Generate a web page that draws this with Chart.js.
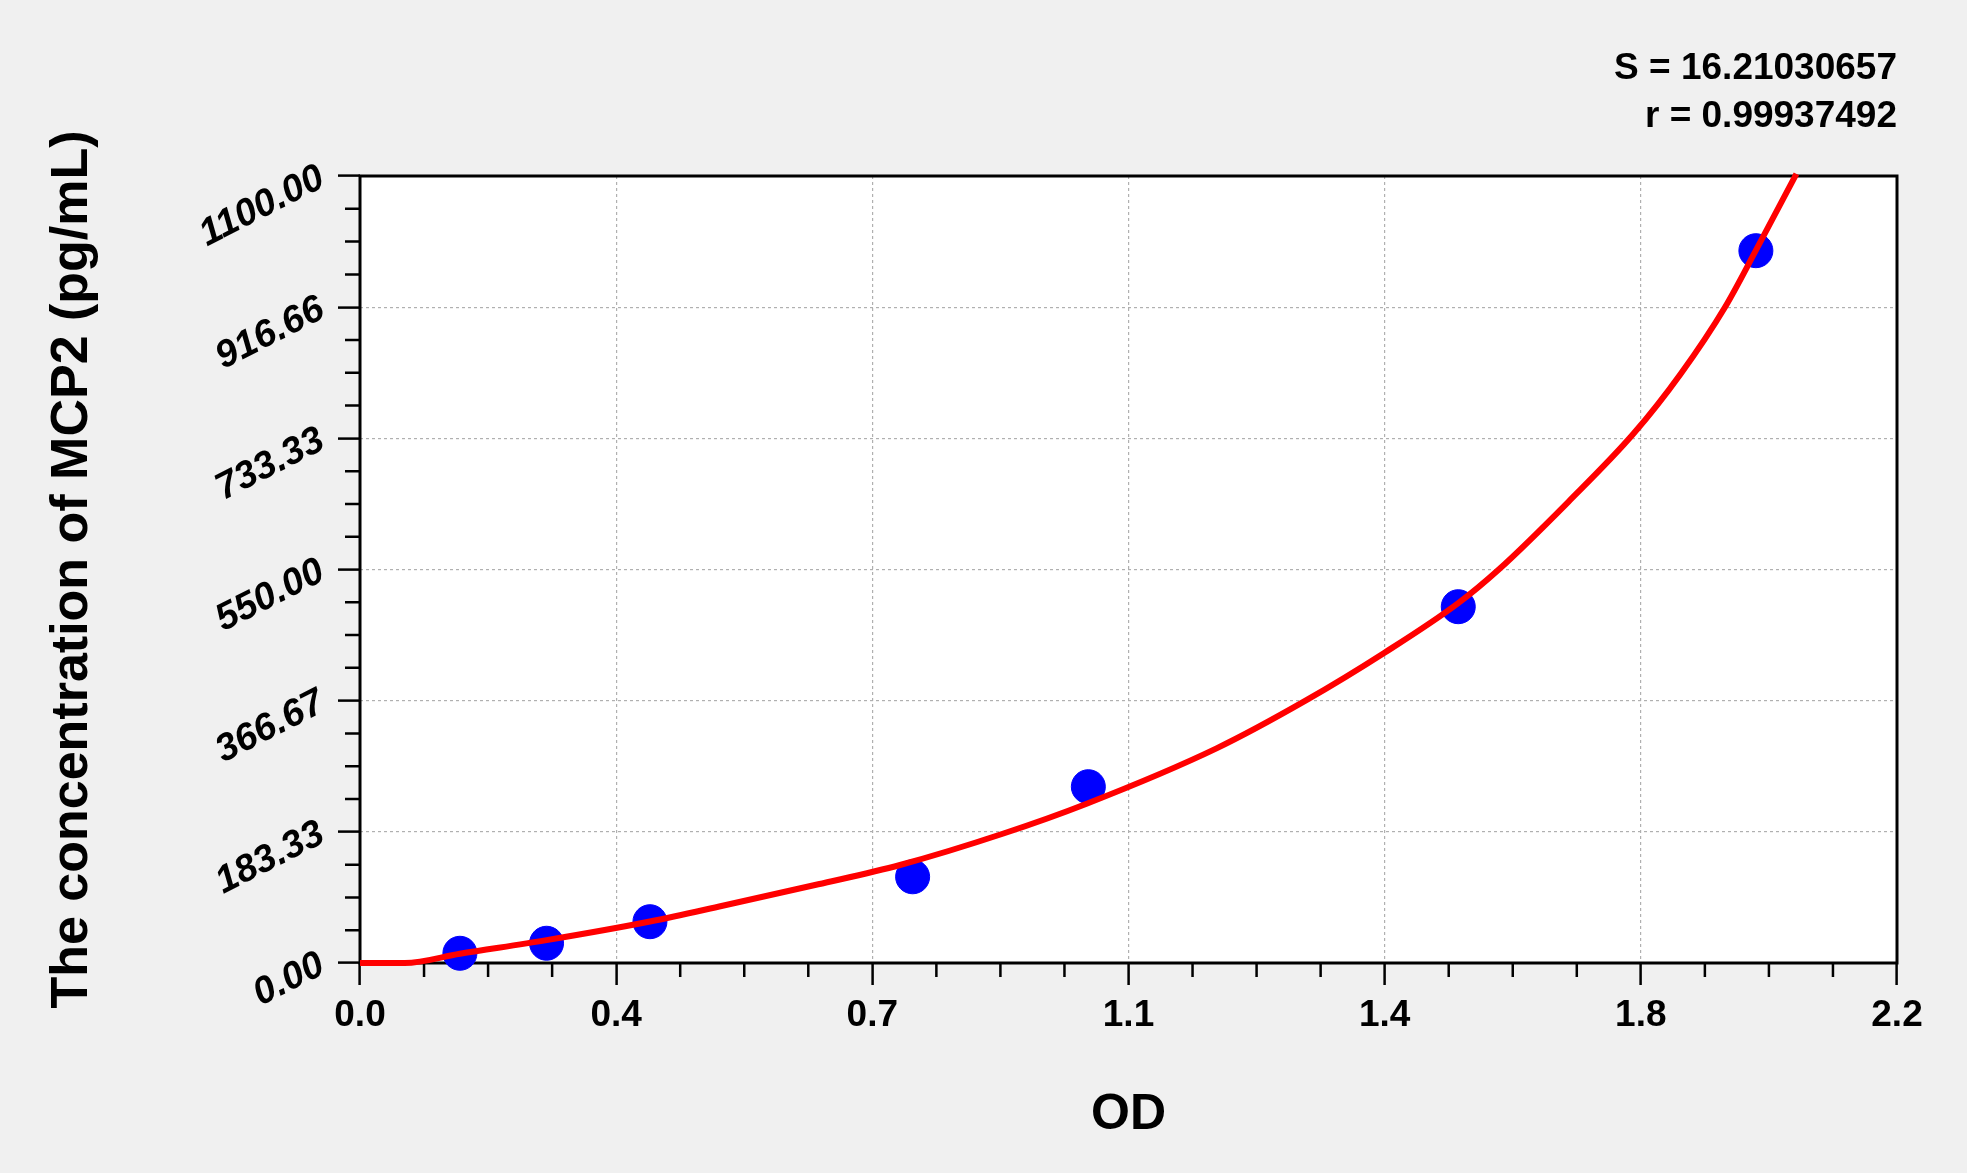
<!DOCTYPE html>
<html>
<head>
<meta charset="utf-8">
<title>MCP2 standard curve</title>
<script src="https://cdn.jsdelivr.net/npm/chart.js@4.4.0/dist/chart.umd.min.js"></script>
<style>
  html, body { margin: 0; padding: 0; background: #f0f0f0; }
  #wrap { width: 1967px; height: 1173px; }
</style>
</head>
<body>
<div id="wrap"><canvas id="myChart"></canvas></div>
<script>
// standards (OD vs concentration)
const odValues = [0.143, 0.267, 0.415, 0.791, 1.0425, 1.572, 1.998];
const concValues = [13.6, 27.6, 57.7, 120.5, 246.4, 498, 995.6];

// fitted curve
const curveOd = [0, 0.064, 0.143, 0.267, 0.415, 0.519, 0.656, 0.773, 0.921, 1.041, 1.226, 1.354, 1.467, 1.572, 1.63, 1.73, 1.823, 1.89, 1.954, 1.998, 2.056];
const curveConc = [0, 0, 13, 32, 58, 80, 110, 137, 181, 223, 300, 367, 434, 503, 550, 645, 740, 823, 917, 996, 1103];

const xTickValues = [0, 0.36667, 0.73333, 1.1, 1.46667, 1.83333, 2.2];
const xTickLabels = ["0.0", "0.4", "0.7", "1.1", "1.4", "1.8", "2.2"];
const yTickValues = [0, 183.33, 366.67, 550, 733.33, 916.66, 1100];
const yTickLabels = ["0.00", "183.33", "366.67", "550.00", "733.33", "916.66", "1100.00"];

const FONT = '"Liberation Sans", Arial, sans-serif';

// grey page, white plot, black frame and the small in-between ticks
const framePlugin = {
  id: "frame",
  beforeDraw(chart) {
    const { ctx, chartArea: a } = chart;
    ctx.save();
    ctx.fillStyle = "#f0f0f0";
    ctx.fillRect(0, 0, chart.width, chart.height);
    ctx.fillStyle = "#ffffff";
    ctx.fillRect(a.left, a.top, a.right - a.left, a.bottom - a.top);
    ctx.restore();
  },
  beforeDatasetsDraw(chart) {
    const { ctx, chartArea: a, scales } = chart;
    ctx.save();
    ctx.strokeStyle = "#000";
    ctx.lineWidth = 2.5;
    ctx.beginPath();
    for (let i = 0; i < xTickValues.length - 1; i++) {
      for (let k = 1; k < 4; k++) {
        const v = xTickValues[i] + ((xTickValues[i + 1] - xTickValues[i]) * k) / 4;
        const px = scales.x.getPixelForValue(v);
        ctx.moveTo(px, a.bottom);
        ctx.lineTo(px, a.bottom + 14);
      }
    }
    for (let i = 0; i < yTickValues.length - 1; i++) {
      for (let k = 1; k < 4; k++) {
        const v = yTickValues[i] + ((yTickValues[i + 1] - yTickValues[i]) * k) / 4;
        const py = scales.y.getPixelForValue(v);
        ctx.moveTo(a.left, py);
        ctx.lineTo(a.left - 15, py);
      }
    }
    ctx.stroke();
    ctx.lineWidth = 3;
    ctx.strokeRect(a.left, a.top, a.right - a.left, a.bottom - a.top);
    ctx.restore();
  },
};

const data = {
  datasets: [
    {
      label: "fit",
      type: "line",
      data: curveOd.map((x, i) => ({ x: x, y: curveConc[i] })),
      borderColor: "#ff0000",
      borderWidth: 6,
      pointRadius: 0,
      cubicInterpolationMode: "monotone",
      fill: false,
      clip: false,
    },
    {
      label: "standards",
      type: "scatter",
      data: odValues.map((x, i) => ({ x: x, y: concValues[i] })),
      backgroundColor: "#0000ff",
      borderColor: "#0000ff",
      pointRadius: 17,
      clip: false,
    },
  ],
};

const config = {
  type: "scatter",
  data: data,
  plugins: [framePlugin],
  options: {
    responsive: true,
    maintainAspectRatio: false,
    animation: false,
    layout: { padding: { left: 0, right: 70, top: 0, bottom: 0 } },
    plugins: {
      legend: { display: false },
      tooltip: { enabled: false },
      title: {
        display: true,
        text: ["S = 16.21030657", "r = 0.99937492"],
        align: "end",
        color: "#000",
        font: { family: FONT, size: 37, weight: "bold", lineHeight: 48 / 37 },
        padding: { top: 45, bottom: 35 },
      },
    },
    scales: {
      x: {
        type: "linear",
        min: 0,
        max: 2.2,
        afterBuildTicks: (scale) => {
          scale.ticks = xTickValues.map((v) => ({ value: v }));
        },
        afterFit: (scale) => {
          scale.height = 210;
        },
        ticks: {
          color: "#000",
          padding: 9,
          maxRotation: 0,
          autoSkip: false,
          font: { family: FONT, size: 37, weight: "bold" },
          callback: (value, index) => xTickLabels[index],
        },
        grid: {
          color: "#b0b0b0",
          lineWidth: 1.2,
          tickColor: "#000",
          tickWidth: 2.5,
          tickLength: 22,
          tickBorderDash: [],
        },
        border: { display: false, dash: [3, 3] },
        title: {
          display: true,
          text: "OD",
          color: "#000",
          font: { family: FONT, size: 50, weight: "bold" },
          padding: { top: 0, bottom: 28 },
        },
      },
      y: {
        type: "linear",
        min: 0,
        max: 1100,
        afterBuildTicks: (scale) => {
          scale.ticks = yTickValues.map((v) => ({ value: v }));
        },
        afterFit: (scale) => {
          scale.width = 360;
        },
        ticks: {
          color: "#000",
          padding: 16,
          minRotation: 27,
          maxRotation: 27,
          autoSkip: false,
          font: { family: FONT, size: 38, weight: "bold", style: "italic" },
          callback: (value, index) => yTickLabels[index],
        },
        grid: {
          color: "#b0b0b0",
          lineWidth: 1.2,
          tickColor: "#000",
          tickWidth: 2.5,
          tickLength: 22,
          tickBorderDash: [],
        },
        border: { display: false, dash: [3, 3] },
        title: {
          display: true,
          text: "The concentration of MCP2 (pg/mL)",
          color: "#000",
          font: { family: FONT, size: 52, weight: "bold" },
          padding: { top: 41, bottom: 0 },
        },
      },
    },
  },
};

new Chart(document.getElementById("myChart"), config);
</script>
</body>
</html>
